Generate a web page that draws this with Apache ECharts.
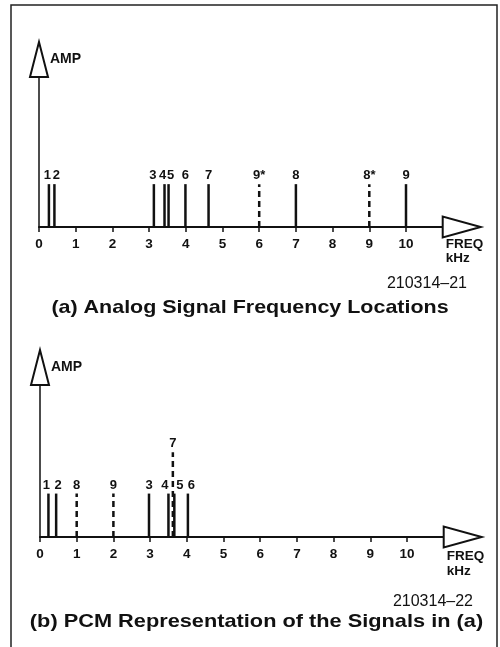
<!DOCTYPE html>
<html><head><meta charset="utf-8">
<script src="https://cdn.jsdelivr.net/npm/echarts@6/dist/echarts.min.js"></script>
<style>html,body{margin:0;padding:0;background:#fff}#c{width:500px;height:647px}</style>
</head><body><div id="c"></div>
<script>
// ---------- DATA ----------
const tickLabels = [0, 1, 2, 3, 4, 5, 6, 7, 8, 9, 10];
// (a) Analog signal frequency locations (kHz)
const aLabels = ['1', '2', '3', '4', '5', '6', '7', '9*', '8', '8*', '9'];
const aFreq   = [0.27, 0.42, 3.13, 3.42, 3.53, 3.99, 4.62, 6.0, 7.0, 9.0, 10.0];
const aAmp    = [1, 1, 1, 1, 1, 1, 1, 1, 1, 1, 1];
const aDashed = [0, 0, 0, 0, 0, 0, 0, 1, 0, 1, 0];
// (b) PCM representation (kHz)
const bLabels = ['1', '2', '8', '9', '3', '4', '7', '5', '6'];
const bFreq   = [0.23, 0.44, 1.0, 2.0, 2.97, 3.5, 3.62, 3.66, 4.03];
const bAmp    = [1, 1, 1, 1, 1, 1, 1.95, 1, 1];
const bDashed = [0, 0, 1, 1, 0, 0, 1, 0, 0];

// ---------- STYLE ----------
const INK = '#111';
const FONT = '"Liberation Sans", Arial, sans-serif';
const aLabelDx = {'1': -1.5, '2': 2, '3': -1, '4': -2, '5': 2};
const bLabelDx = {'1': -2, '2': 2, '4': -3.5, '5': 5.5, '6': 3.5};

function stemSeries(gi, freqs, amps, labels, dashed, dx) {
  return {
    type: 'custom', xAxisIndex: gi, yAxisIndex: gi, silent: true,
    data: freqs.map((f, i) => [f, amps[i], i]),
    encode: {x: 0, y: 1},
    renderItem: function (params, api) {
      const i = api.value(2);
      const p0 = api.coord([api.value(0), 0]);
      const p1 = api.coord([api.value(0), api.value(1)]);
      return {
        type: 'group',
        children: [
          {type: 'line', shape: {x1: p0[0], y1: p0[1], x2: p1[0], y2: p1[1]},
           style: {stroke: INK, lineWidth: 2.5, lineDash: dashed[i] ? [6, 4] : null}},
          {type: 'text', x: p1[0] + (dx[labels[i]] || 0), y: p1[1] - 2,
           style: {text: labels[i], fill: INK, font: 'bold 13px ' + FONT,
                   textAlign: 'center', textVerticalAlign: 'bottom'}}
        ]
      };
    }
  };
}

function xAx(gi) {
  return {
    type: 'value', gridIndex: gi, min: 0, max: 11,
    axisLine: {show: true, onZero: true, lineStyle: {color: INK, width: 2}},
    axisTick: {show: true, customValues: tickLabels, length: 5, lineStyle: {color: INK, width: 1.5}},
    axisLabel: {customValues: tickLabels, color: INK, fontWeight: 'bold', fontSize: 13.5,
                fontFamily: FONT, margin: 10},
    splitLine: {show: false}
  };
}
function yAx(gi) {
  return {
    type: 'value', gridIndex: gi, min: 0, max: 3.5,
    axisLine: {show: true, lineStyle: {color: INK, width: 1.5}},
    axisTick: {show: false}, axisLabel: {show: false}, splitLine: {show: false}
  };
}

const chart = echarts.init(document.getElementById('c'), null, {renderer: 'canvas'});
chart.setOption({
  animation: false,
  backgroundColor: '#fff',
  grid: [
    {left: 39, top: 77, width: 403.7, height: 150},
    {left: 40, top: 385, width: 403.7, height: 152}
  ],
  xAxis: [xAx(0), xAx(1)],
  yAxis: [yAx(0), yAx(1)],
  series: [
    stemSeries(0, aFreq, aAmp, aLabels, aDashed, aLabelDx),
    stemSeries(1, bFreq, bAmp, bLabels, bDashed, bLabelDx)
  ]
});

// ---------- DECORATIONS (arrows, texts, frame) ----------
const g = [];
g.push({type: 'rect', shape: {x: 11, y: 5, width: 486, height: 720},
        style: {fill: 'none', stroke: '#222', lineWidth: 1.5}, silent: true});
[0, 1].forEach(function (gi) {
  const o = chart.convertToPixel({xAxisIndex: gi, yAxisIndex: gi}, [0, 0]);
  const xe = chart.convertToPixel({xAxisIndex: gi, yAxisIndex: gi}, [11, 3.5]);
  g.push({type: 'polygon', shape: {points: [[xe[0], o[1] - 10.5], [xe[0], o[1] + 10.5], [xe[0] + 38, o[1]]]},
          style: {fill: '#fff', stroke: INK, lineWidth: 2}, z: 10});
  g.push({type: 'polygon', shape: {points: [[o[0] - 9, xe[1]], [o[0] + 9, xe[1]], [o[0], xe[1] - 35]]},
          style: {fill: '#fff', stroke: INK, lineWidth: 2}, z: 10});
  g.push({type: 'text', x: o[0] + 11, y: xe[1] - 18,
          style: {text: 'AMP', fill: INK, font: 'bold 14px ' + FONT, textVerticalAlign: 'middle'}});
  g.push({type: 'text', x: xe[0] + 3, y: o[1] + (gi === 0 ? 17.7 : 19.7),
          style: {text: 'FREQ', fill: INK, font: 'bold 13.5px ' + FONT, textVerticalAlign: 'middle'}});
  g.push({type: 'text', x: xe[0] + 3, y: o[1] + (gi === 0 ? 31.7 : 34.3),
          style: {text: 'kHz', fill: INK, font: 'bold 13.5px ' + FONT, textVerticalAlign: 'middle'}});
});
g.push({type: 'text', x: 467, y: 284,
        style: {text: '210314–21', fill: INK, font: '16px ' + FONT, textAlign: 'right', textVerticalAlign: 'middle'}});
g.push({type: 'text', x: 250, y: 308, scaleX: 1.13,
        style: {text: '(a) Analog Signal Frequency Locations', fill: INK, font: 'bold 19px ' + FONT,
                textAlign: 'center', textVerticalAlign: 'middle'}});
g.push({type: 'text', x: 473, y: 601.7,
        style: {text: '210314–22', fill: INK, font: '16px ' + FONT, textAlign: 'right', textVerticalAlign: 'middle'}});
g.push({type: 'text', x: 256.5, y: 622, scaleX: 1.145,
        style: {text: '(b) PCM Representation of the Signals in (a)', fill: INK, font: 'bold 19px ' + FONT,
                textAlign: 'center', textVerticalAlign: 'middle'}});
chart.setOption({graphic: {elements: g}});
</script>
</body></html>
